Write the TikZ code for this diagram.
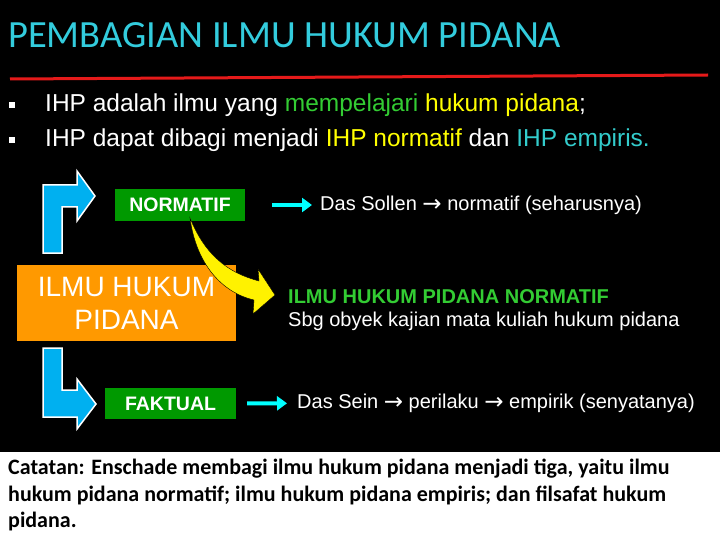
\documentclass[tikz,border=0pt]{standalone}
\usepackage{fontspec}
\setmainfont{Liberation Sans}
\newfontfamily\calibfont{Carlito}
\newfontfamily\arrfont{DejaVu Sans}
\usetikzlibrary{arrows.meta}

\definecolor{titlecyan}{HTML}{33CCDD}
\definecolor{txtcyan}{HTML}{33CCCC}
\definecolor{txtgreen}{HTML}{33CC33}
\definecolor{txtyellow}{HTML}{FFFF00}
\definecolor{boxgreen}{HTML}{009900}
\definecolor{boxorange}{HTML}{FF9900}
\definecolor{bendblue}{HTML}{00B0F0}
\definecolor{arrcyan}{HTML}{00FFFF}
\definecolor{linered}{HTML}{E51A1A}

\newcommand{\toarr}{{\arrfont\fontsize{23}{20}\selectfont\raisebox{-1pt}{→}}}

\begin{document}
\begin{tikzpicture}[x=1pt, y=-1pt, >={Triangle[length=10pt,width=14pt]},
	txt/.style={anchor=west, inner sep=0pt, text=white, font=\fontsize{20}{22}\selectfont},
	labbox/.style={fill=boxgreen, text=white, inner sep=0pt, font=\fontsize{19.5}{21}\selectfont\bfseries},
	bentarrow/.style={fill=bendblue, draw=white, line width=1.5pt, line join=miter},
	cyanarr/.style={->, draw=arrcyan, line width=4pt}]

	% === BACKGROUND === (((
	\useasboundingbox (0,0) rectangle (720,540);
	\fill[black] (0,0) rectangle (720,452);
	\fill[white] (0,452) rectangle (720,540);
	% )))

	% === NODES === (((
	\node[anchor=west, inner sep=0pt, text=titlecyan, font=\calibfont\fontsize{38.5}{40}\selectfont] (title) at (8,35) {PEMBAGIAN ILMU HUKUM PIDANA};

	\node[fill=white, minimum size=6pt, inner sep=0pt] (dot1) at (12,105) {};
	\node[fill=white, minimum size=6pt, inner sep=0pt] (dot2) at (12,140) {};
	\node[txt, font=\fontsize{24.5}{27}\selectfont] (pt1) at (45,105) {IHP adalah ilmu yang \textcolor{txtgreen}{mempelajari} \textcolor{txtyellow}{hukum pidana};};
	\node[txt, font=\fontsize{24.5}{27}\selectfont] (pt2) at (45,140) {IHP dapat dibagi menjadi \textcolor{txtyellow}{IHP normatif} dan \textcolor{txtcyan}{IHP empiris.}};

	\node[labbox, minimum width=130pt, minimum height=32pt] (norm) at (180,205) {NORMATIF};
	\node[fill=boxorange, text=white, inner sep=0pt, minimum width=219pt, minimum height=76pt, align=center, font=\fontsize{28}{33}\selectfont] (ihp) at (126.5,303) {ILMU HUKUM\\PIDANA};
	\node[labbox, minimum width=131pt, minimum height=31pt] (fakt) at (170.5,403.5) {FAKTUAL};

	\node[txt] (sollen) at (320,205) {Das Sollen \toarr{} normatif (seharusnya)};
	\node[txt, text=txtgreen, font=\fontsize{20}{22}\selectfont\bfseries] (ihpn) at (288,297) {ILMU HUKUM PIDANA NORMATIF};
	\node[txt] (obyek) at (288,321) {Sbg obyek kajian mata kuliah hukum pidana};
	\node[txt] (sein) at (297,403) {Das Sein \toarr{} perilaku \toarr{} empirik (senyatanya)};

	\node[anchor=north west, inner sep=0pt, align=left, text=black, font=\calibfont\bfseries\fontsize{22}{26.5}\selectfont] (note) at (8,459) {Catatan: Enschade membagi ilmu hukum pidana menjadi tiga, yaitu ilmu\\hukum pidana normatif; ilmu hukum pidana empiris; dan filsafat hukum\\pidana.};
	% )))

	% === SHAPES === (((
	\draw[linered, line width=3pt] (10,79) -- (708,75);

	\draw[bentarrow] (43,253) -- (43,185) -- (77,185) -- (77,171) -- (95,196) -- (77,221) -- (77,207) -- (62,207) -- (62,253) -- cycle;
	\draw[bentarrow] (43,348) -- (62,348) -- (62,390) -- (77,390) -- (77,379) -- (96,404) -- (77,429) -- (77,417) -- (43,417) -- cycle;

	\filldraw[fill=yellow, draw=black, line width=0.4pt] (190,218) .. controls (205,255) and (228,273) .. (259,281) -- (258,269) -- (275,295) -- (253,314) -- (254,300) .. controls (220,292) and (196,262) .. (190,218) -- cycle;
	% )))

	% === LINES === (((
	\draw[cyanarr, shorten <=27pt, shorten >=8pt] (norm) -- (sollen);
	\draw[cyanarr, shorten <=11pt, shorten >=10pt] (fakt) -- (sein);
	% )))

\end{tikzpicture}
\end{document}
